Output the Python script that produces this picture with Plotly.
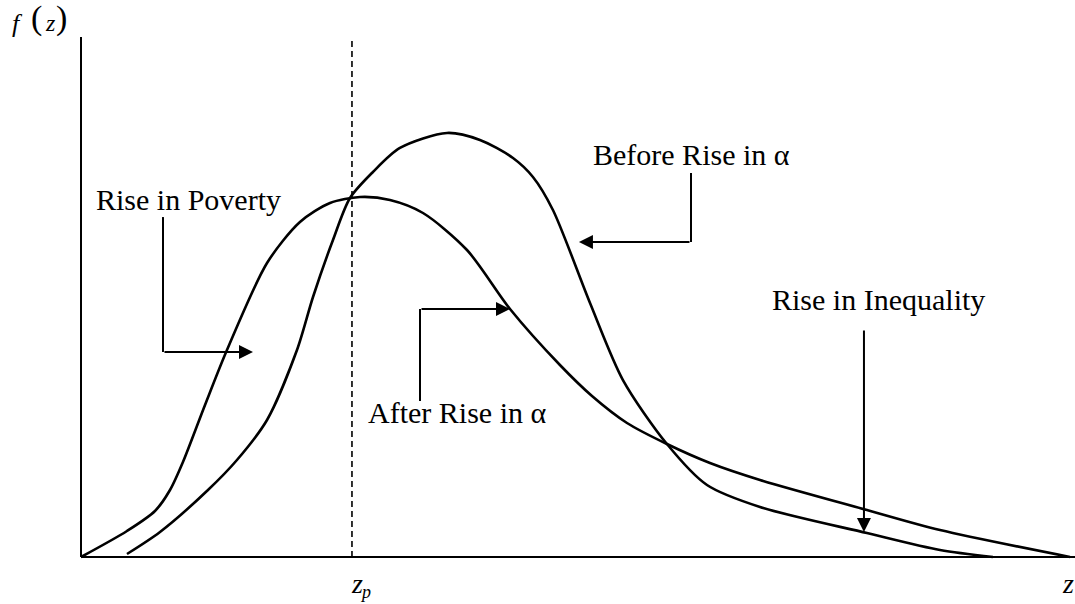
import plotly.graph_objects as go

# Income z (0-100) and density f(z) (0-100)
z_after = [0, 4.65, 7.48, 9.00, 10.31, 12.54, 14.76, 18.81, 22.14, 25.18, 28.21, 31.24,
           34.58, 39.03, 43.38, 48.43, 51.67, 55.21, 59.25, 63.60, 68.66, 79.47, 86.86, 100]
f_after = [0, 5.01, 8.86, 12.91, 18.30, 29.29, 39.88, 56.65, 64.55, 68.21, 69.36, 68.79,
           66.28, 59.15, 47.78, 36.99, 31.02, 25.82, 21.77, 18.11, 14.84, 9.06, 5.20, 0]

z_before = [4.65, 7.99, 12.84, 15.77, 18.81, 21.84, 23.46, 25.48, 27.20, 29.52, 32.25,
            37.01, 40.34, 43.68, 45.70, 47.72, 51.47, 54.80, 59.25, 63.30, 68.66, 79.47,
            86.86, 92.21]
f_before = [0.58, 4.82, 12.91, 18.69, 26.40, 39.88, 50.10, 61.08, 69.17, 74.18, 78.81,
            81.70, 80.35, 76.88, 73.22, 66.86, 48.94, 34.10, 21.77, 13.87, 9.63, 4.62,
            1.35, 0]

z_poverty_line = 27.4

# Labels: text, label centre, arrow path (last point = arrow tip)
labels = ["Rise in Poverty", "After Rise in α", "Before Rise in α", "Rise in Inequality"]
label_x = [10.87, 38.07, 61.73, 80.59]
label_y = [68.8, 27.9, 77.5, 49.7]
path_x = [[8.29, 8.29, 17.39], [34.28, 34.28, 43.38], [61.68, 61.68, 50.35], [79.17, 79.17]]
path_y = [[65.5, 39.5, 39.5], [30.06, 47.78, 47.78], [73.99, 60.69, 60.69], [43.93, 4.82]]

# Axis title pieces: "f ( z )" at top-left, "z_p" under the poverty line, "z" at right end
title_parts = ["f", "(", "z", ")", "z", "p", "z"]
title_x = [-6.42, -4.55, -3.13, -2.02, 27.86, 28.72, 99.85]
title_y = [102.7, 103.76, 102.8, 103.76, -5.11, -6.65, -5.11]
title_size = [26, 34, 24, 34, 28, 18, 28]

FONT = "Liberation Serif, Times New Roman, serif"

fig = go.Figure()
for zs, fs in [(z_after, f_after), (z_before, f_before)]:
    fig.add_trace(go.Scatter(x=zs, y=fs, mode="lines", line=dict(color="black", width=2.6,
                             shape="spline", smoothing=0.8), cliponaxis=False,
                             hoverinfo="skip", showlegend=False))

# axes
fig.add_shape(type="line", x0=0, x1=100.6, y0=0, y1=0, line=dict(color="black", width=2))
fig.add_shape(type="line", x0=0, x1=0, y0=0, y1=100.2, line=dict(color="black", width=2))
# poverty line
fig.add_shape(type="line", x0=z_poverty_line, x1=z_poverty_line, y0=0, y1=100,
              line=dict(color="black", width=1.6, dash="6px,4px"))

annotations = []
for txt, lx, ly, px, py in zip(labels, label_x, label_y, path_x, path_y):
    annotations.append(dict(x=lx, y=ly, text=txt, showarrow=False,
                            font=dict(family=FONT, size=30, color="black")))
    if len(px) > 2:
        fig.add_trace(go.Scatter(x=px[:-1], y=py[:-1], mode="lines",
                                 line=dict(color="black", width=2), hoverinfo="skip",
                                 showlegend=False, cliponaxis=False))
    annotations.append(dict(x=px[-1], y=py[-1], ax=px[-2], ay=py[-2], axref="x", ayref="y",
                            xref="x", yref="y", text="", showarrow=True, arrowhead=2,
                            arrowsize=1.4, arrowwidth=2, arrowcolor="black", standoff=0))

for t, tx, ty, ts in zip(title_parts, title_x, title_y, title_size):
    annotations.append(dict(x=tx, y=ty, text=f"<i>{t}</i>" if t.isalpha() else t,
                            showarrow=False, font=dict(family=FONT, size=ts, color="black")))

fig.update_layout(
    width=1075, height=604,
    margin=dict(l=0, r=0, t=0, b=0),
    paper_bgcolor="white", plot_bgcolor="white",
    annotations=annotations,
    xaxis=dict(range=[-8.19, 100.51], visible=False),
    yaxis=dict(range=[-9.056, 107.32], visible=False),
)

fig.write_html("out.html", config={"displayModeBar": False},
               post_script="document.body.style.margin='0px';")
